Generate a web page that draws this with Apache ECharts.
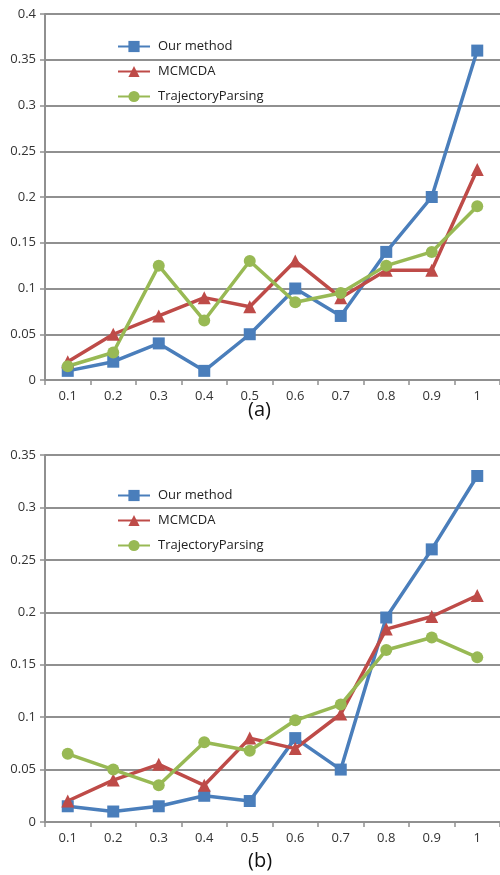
<!DOCTYPE html>
<html lang="en">
<head>
	<meta charset="UTF-8">
	<title>Two line charts</title>
	<script src="https://cdn.jsdelivr.net/npm/echarts@6/dist/echarts.min.js"></script>
	<style>
		html, body { margin: 0; padding: 0; background: #fff; }
	</style>
</head>
<body>
	<div id="main" style="width: 500px;height: 875px;"></div>

	<script>
		// x categories (shared)
		var categories = ['0.1', '0.2', '0.3', '0.4', '0.5', '0.6', '0.7', '0.8', '0.9', '1'];
		var seriesNames = ['Our method', 'MCMCDA', 'TrajectoryParsing'];

		// chart (a)
		var oursA = [0.01, 0.02, 0.04, 0.01, 0.05, 0.10, 0.07, 0.14, 0.20, 0.36];
		var mcmcdaA = [0.02, 0.05, 0.07, 0.09, 0.08, 0.13, 0.09, 0.12, 0.12, 0.23];
		var trajA = [0.015, 0.03, 0.125, 0.065, 0.13, 0.085, 0.095, 0.125, 0.14, 0.19];

		// chart (b)
		var oursB = [0.015, 0.01, 0.015, 0.025, 0.02, 0.08, 0.05, 0.195, 0.26, 0.33];
		var mcmcdaB = [0.02, 0.04, 0.055, 0.035, 0.08, 0.07, 0.103, 0.184, 0.196, 0.216];
		var trajB = [0.065, 0.05, 0.035, 0.076, 0.068, 0.097, 0.112, 0.164, 0.176, 0.157];

		var colors = ['#4a7ebb', '#be4b48', '#98b954'];
		var symbols = ['rect', 'triangle', 'circle'];
		var symSizes = [12, 13, 12];
		var font = 'Open Sans';

		var chartDom = document.getElementById('main');
		var myChart = echarts.init(chartDom);

		function xAxis(idx) {
			return {
				type: 'category',
				gridIndex: idx,
				data: categories,
				boundaryGap: true,
				axisLine: { lineStyle: { color: '#909090', width: 2 } },
				axisTick: { show: true, length: 5, lineStyle: { color: '#909090', width: 1.5 } },
				axisLabel: { color: '#333', fontSize: 13, fontFamily: font, margin: 10 }
			};
		}
		function yAxis(idx, max) {
			return {
				type: 'value',
				gridIndex: idx,
				min: 0,
				max: max,
				interval: 0.05,
				axisLine: { show: true, lineStyle: { color: '#909090', width: 2 } },
				axisTick: { show: true, length: 5, lineStyle: { color: '#909090', width: 1.5 } },
				splitLine: { lineStyle: { color: '#909090', width: 2 } },
				axisLabel: { color: '#333', fontSize: 13, fontFamily: font, margin: 9 }
			};
		}
		function makeSeries(idx, lists) {
			return lists.map(function (d, i) {
				return {
					name: seriesNames[i],
					type: 'line',
					xAxisIndex: idx,
					yAxisIndex: idx,
					data: d,
					symbol: symbols[i],
					symbolSize: symSizes[i],
					showAllSymbol: true,
					lineStyle: { color: colors[i], width: 3.5 },
					itemStyle: { color: colors[i] },
					animation: false
				};
			});
		}
		function legend(top) {
			return {
				orient: 'vertical',
				left: 112,
				top: top,
				itemGap: 12,
				itemWidth: 32,
				itemHeight: 14,
				data: seriesNames,
				textStyle: { color: '#222', fontSize: 13, fontFamily: font, padding: [0, 0, 0, 3] }
			};
		}

		var option = {
			animation: false,
			color: colors,
			title: [
				{ text: '(a)', left: 243, top: 395, textStyle: { fontSize: 20, fontWeight: 'normal', color: '#111', fontFamily: font } },
				{ text: '(b)', left: 243, top: 846, textStyle: { fontSize: 20, fontWeight: 'normal', color: '#111', fontFamily: font } }
			],
			legend: [legend(35), legend(484)],
			grid: [
				{ left: 45, right: -2, top: 14, bottom: 495 },
				{ left: 45, right: -2, top: 455, bottom: 53 }
			],
			xAxis: [xAxis(0), xAxis(1)],
			yAxis: [yAxis(0, 0.4), yAxis(1, 0.35)],
			series: makeSeries(0, [oursA, mcmcdaA, trajA]).concat(makeSeries(1, [oursB, mcmcdaB, trajB]))
		};

		myChart.setOption(option);
	</script>
</body>
</html>
